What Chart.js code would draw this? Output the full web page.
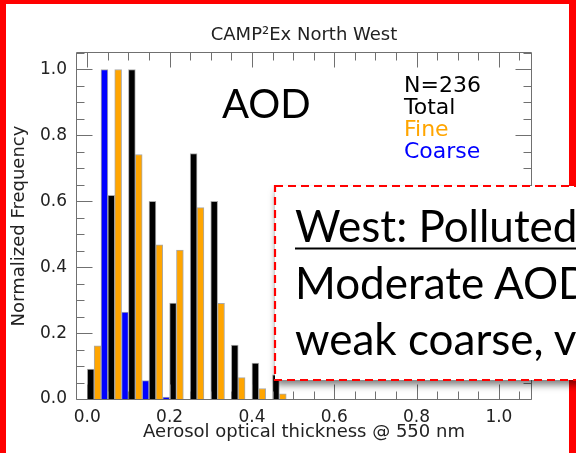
<!DOCTYPE html>
<html>
<head>
<meta charset="utf-8">
<script src="https://cdn.jsdelivr.net/npm/chart.js@4.4.1/dist/chart.umd.min.js"></script>
<style>
  html, body { margin: 0; padding: 0; background: #fff; }
  #wrap { position: relative; width: 576px; height: 453px; overflow: hidden; background: #fff; }
  #c { position: absolute; left: 0; top: 0; }
  #frame { position: absolute; left: 0; top: 0; width: 576px; height: 453px; box-sizing: border-box;
           border-left: 6px solid #ff0000; border-top: 4px solid #ff0000; border-right: 7px solid #ff0000; }
  #note { position: absolute; left: 0; top: 0; }
  #note text { font-family: Lato, "Open Sans", sans-serif; font-size: 44px; fill: #000; }
</style>
</head>
<body>
<div id="wrap">
  <canvas id="c" width="576" height="453"></canvas>
  <div id="frame"></div>
  <svg id="note" width="576" height="453" xmlns="http://www.w3.org/2000/svg">
    <defs>
      <filter id="shadow" x="-10%" y="-10%" width="130%" height="140%">
        <feDropShadow dx="1" dy="5" stdDeviation="3.5" flood-color="#000" flood-opacity="0.5"/>
      </filter>
    </defs>
    <rect x="275" y="186" width="420" height="194" fill="#fff" filter="url(#shadow)"/>
    <rect x="275" y="186" width="420" height="194" fill="none" stroke="#ff0000" stroke-width="2.2" stroke-dasharray="8 5"/>
    <text id="line1" x="295" y="241.5">West: Polluted</text>
    <line id="uline" x1="295" y1="248.5" x2="600" y2="248.5" stroke="#000" stroke-width="2.2"/>
    <text x="295" y="298.5">Moderate AOD</text>
    <text x="295" y="355">weak coarse, v</text>
  </svg>
</div>
<script>
// Histogram bins (centre of each 0.05-wide AOD bin)
const binCenters = [0.025, 0.075, 0.125, 0.175, 0.225, 0.275, 0.325, 0.375, 0.425, 0.475];

// Normalized frequency per bin
const totalFreq  = [0.091, 0.618, 1.000, 0.600, 0.291, 0.745, 0.600, 0.164, 0.109, 0.073];
const fineFreq   = [0.161, 1.000, 0.742, 0.468, 0.452, 0.581, 0.290, 0.065, 0.032, 0.016];
const coarseFreq = [1.000, 0.264, 0.056, 0.006, 0.000, 0.000, 0.000, 0.000, 0.000, 0.000];

// Axis tick labels
const xTickValues = [0.0, 0.2, 0.4, 0.6, 0.8, 1.0];
const yTickValues = [0.0, 0.2, 0.4, 0.6, 0.8, 1.0];

// Text annotations
const titleText = 'CAMP\u00B2Ex North West';
const panelLabel = 'AOD';
const legendLines = ['N=236', 'Total', 'Fine', 'Coarse'];
const legendColors = ['#000000', '#000000', '#ffa500', '#0000ff'];

// underline length follows the heading width
const l1 = document.getElementById('line1');
const ul = document.getElementById('uline');
ul.setAttribute('x2', 295 + l1.getComputedTextLength());

const FRAME = '#707070';
const TEXT = '#222222';

const toPoints = arr => binCenters.map((x, i) => ({ x, y: arr[i] }));

// Boxed frame with inward major/minor ticks on all four sides
const frameTicks = {
  id: 'frameTicks',
  afterDatasetsDraw(chart) {
    const { ctx, chartArea: a, scales: { x, y } } = chart;
    ctx.save();
    ctx.strokeStyle = FRAME;
    ctx.lineWidth = 1;
    ctx.beginPath();
    const L = Math.round(a.left) - 0.5, R = Math.round(a.right) + 0.5;
    const T = Math.round(a.top) - 0.5, B = Math.round(a.bottom) + 0.5;
    ctx.rect(L, T, R - L, B - T);
    const step = 0.05;
    for (let i = 0; i * step <= x.max + 1e-9; i++) {
      const v = i * step;
      const px = Math.round(x.getPixelForValue(v)) + 0.5;
      const major = i % 4 === 0;
      const len = major ? 15 : 8;
      ctx.moveTo(px, B); ctx.lineTo(px, B - len);
      ctx.moveTo(px, T); ctx.lineTo(px, T + len);
    }
    for (let i = 0; i * step <= y.max + 1e-9; i++) {
      const v = i * step;
      const py = Math.round(y.getPixelForValue(v)) + 0.5;
      const major = i % 4 === 0;
      const len = major ? 16 : 8;
      ctx.moveTo(L, py); ctx.lineTo(L + len, py);
      ctx.moveTo(R, py); ctx.lineTo(R - len, py);
    }
    ctx.stroke();
    ctx.restore();
  }
};

// Title, panel label and the N / colour key
const notes = {
  id: 'notes',
  afterDraw(chart) {
    const { ctx, chartArea: a } = chart;
    ctx.save();
    ctx.textBaseline = 'alphabetic';
    ctx.fillStyle = TEXT;
    ctx.textAlign = 'center';
    ctx.font = '18px "DejaVu Sans"';
    ctx.fillText(titleText, (a.left + a.right) / 2, 40);
    ctx.textAlign = 'left';
    ctx.fillStyle = '#000';
    ctx.font = '40px Lato';
    ctx.fillText(panelLabel, 222, 118);
    ctx.font = '22px "DejaVu Sans"';
    const base = [91.5, 113.5, 135.5, 158];
    legendLines.forEach((t, i) => {
      ctx.fillStyle = legendColors[i];
      ctx.fillText(t, 404, base[i]);
    });
    ctx.restore();
  }
};

new Chart(document.getElementById('c'), {
  type: 'bar',
  data: {
    datasets: [
      { label: 'Total',  data: toPoints(totalFreq),  backgroundColor: '#000000' },
      { label: 'Fine',   data: toPoints(fineFreq),   backgroundColor: '#ffa500' },
      { label: 'Coarse', data: toPoints(coarseFreq), backgroundColor: '#0000ff' }
    ]
  },
  options: {
    responsive: false,
    animation: false,
    devicePixelRatio: 1,
    layout: { padding: { top: 53, right: 45, left: 0, bottom: 0 } },
    plugins: { legend: { display: false }, tooltip: { enabled: false }, title: { display: false } },
    datasets: {
      bar: { categoryPercentage: 1, barPercentage: 1, borderWidth: 1, borderColor: '#a9a9a9' }
    },
    scales: {
      x: {
        type: 'linear',
        min: -0.025,
        max: 1.078,
        offset: false,
        grid: { display: false, drawTicks: false, offset: false },
        border: { display: false },
        afterBuildTicks: s => { s.ticks = xTickValues.map(v => ({ value: v })); },
        afterFit: s => { s.height = 54; },
        ticks: {
          padding: 8, color: TEXT, autoSkip: false, maxRotation: 0,
          font: { family: 'DejaVu Sans', size: 17 },
          callback: v => Number(v).toFixed(1)
        },
        title: {
          display: true, text: 'Aerosol optical thickness @ 550 nm', color: TEXT,
          font: { family: 'DejaVu Sans', size: 18 }, padding: { top: 0, bottom: 10 }
        }
      },
      y: {
        type: 'linear',
        min: 0,
        max: 1.05,
        grid: { display: false, drawTicks: false },
        border: { display: false },
        afterBuildTicks: s => { s.ticks = yTickValues.map(v => ({ value: v })); },
        afterFit: s => { s.width = 77; },
        ticks: {
          padding: 10, color: TEXT, autoSkip: false,
          font: { family: 'DejaVu Sans', size: 17 },
          callback: v => Number(v).toFixed(1)
        },
        title: {
          display: true, text: 'Normalized Frequency', color: TEXT,
          font: { family: 'DejaVu Sans', size: 18 }, padding: { top: 9, bottom: 0 }
        }
      }
    }
  },
  plugins: [frameTicks, notes]
});
</script>
</body>
</html>
